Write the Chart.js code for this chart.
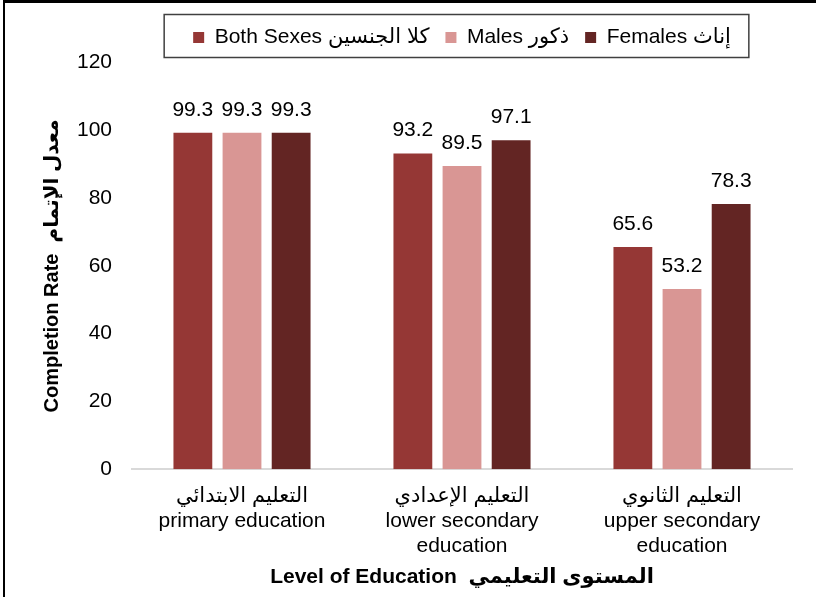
<!DOCTYPE html>
<html>
<head>
<meta charset="utf-8">
<script src="https://cdn.jsdelivr.net/npm/chart.js@4/dist/chart.umd.min.js"></script>
<style>
html,body{margin:0;padding:0;background:#fff;}
#wrap{position:relative;height:597px;box-sizing:border-box;border-top:3px solid #000;border-left:2px solid #000;margin-left:3px;width:813px;}
canvas{display:block;}
</style>
</head>
<body>
<div id="wrap"><canvas id="c" width="811" height="594"></canvas></div>
<script>
const categories = [
  ["التعليم الابتدائي", "primary education"],
  ["التعليم الإعدادي", "lower secondary", "education"],
  ["التعليم الثانوي", "upper secondary", "education"]
];
const seriesNames = ["Both Sexes كلا الجنسين", "Males ذكور", "Females إناث"];
const bothSexes = [99.3, 93.2, 65.6];
const males = [99.3, 89.5, 53.2];
const females = [99.3, 97.1, 78.3];
const colors = ["#953735", "#D99694", "#632523"];
const yTicks = [0, 20, 40, 60, 80, 100, 120];
const yTitle = "Completion Rate  معدل الإتمام";
const xTitle = "Level of Education  المستوى التعليمي";

const FONT = "'Liberation Sans', Arial, 'DejaVu Sans', sans-serif";
Chart.defaults.font.family = FONT;
Chart.defaults.color = "#000";

const valueLabels = {
  id: "valueLabels",
  afterDatasetsDraw(chart) {
    const ctx = chart.ctx;
    ctx.save();
    ctx.font = "21px " + FONT;
    ctx.fillStyle = "#000";
    ctx.textAlign = "center";
    ctx.textBaseline = "middle";
    chart.data.datasets.forEach((ds, i) => {
      const meta = chart.getDatasetMeta(i);
      meta.data.forEach((el, j) => {
        ctx.fillText(ds.data[j].toFixed(1), el.x, el.y - 23);
      });
    });
    ctx.restore();
  }
};

const legendBox = {
  id: "legendBox",
  afterDraw(chart) {
    const boxes = chart.legend.legendHitBoxes;
    if (!boxes || !boxes.length) return;
    let l = Infinity, r = -Infinity, t = Infinity, b = -Infinity;
    boxes.forEach(h => { l = Math.min(l, h.left); r = Math.max(r, h.left + h.width); t = Math.min(t, h.top); b = Math.max(b, h.top + h.height); });
    const ctx = chart.ctx;
    ctx.save();
    ctx.strokeStyle = "#404040";
    ctx.lineWidth = 1.5;
    ctx.strokeRect(l - 29, t - 12.5, (r - l) + 47, (b - t) + 22);
    ctx.restore();
  }
};

new Chart(document.getElementById("c"), {
  type: "bar",
  data: {
    labels: categories,
    datasets: [
      { label: seriesNames[0], data: bothSexes, backgroundColor: colors[0] },
      { label: seriesNames[1], data: males, backgroundColor: colors[1] },
      { label: seriesNames[2], data: females, backgroundColor: colors[2] }
    ]
  },
  options: {
    responsive: false,
    animation: false,
    layout: { padding: { left: 5, right: 24, top: 8, bottom: 0 } },
    datasets: { bar: { categoryPercentage: 0.67, barPercentage: 0.79 } },
    plugins: {
      legend: {
        position: "top",
        fullSize: false,
        labels: { font: { size: 21 }, boxWidth: 11, boxHeight: 11, padding: 16, color: "#000" }
      },
      subtitle: {
        display: true, text: " ", weight: 500,
        font: { size: 1 }, padding: { top: 0, bottom: 3.5 }
      },
      tooltip: { enabled: false }
    },
    scales: {
      x: {
        grid: { display: false, drawTicks: false },
        border: { display: true, color: "#d9d9d9", width: 2 },
        ticks: { font: { size: 21, lineHeight: 1.2 }, padding: 14, maxRotation: 0, autoSkip: false },
        title: { display: true, text: xTitle, font: { size: 21, weight: "bold" }, padding: { top: -8, bottom: 7 } }
      },
      y: {
        min: 0, max: 120,
        afterBuildTicks(axis) { axis.ticks = yTicks.map(v => ({ value: v })); },
        afterFit(axis) { axis.width = 122; },
        grid: { display: false, drawTicks: false },
        border: { display: false },
        ticks: { font: { size: 21 }, padding: 20 },
        title: { display: true, text: yTitle, font: { size: 20, weight: "bold" }, padding: { top: 30, bottom: 0 } }
      }
    }
  },
  plugins: [valueLabels, legendBox]
});
</script>
</body>
</html>
